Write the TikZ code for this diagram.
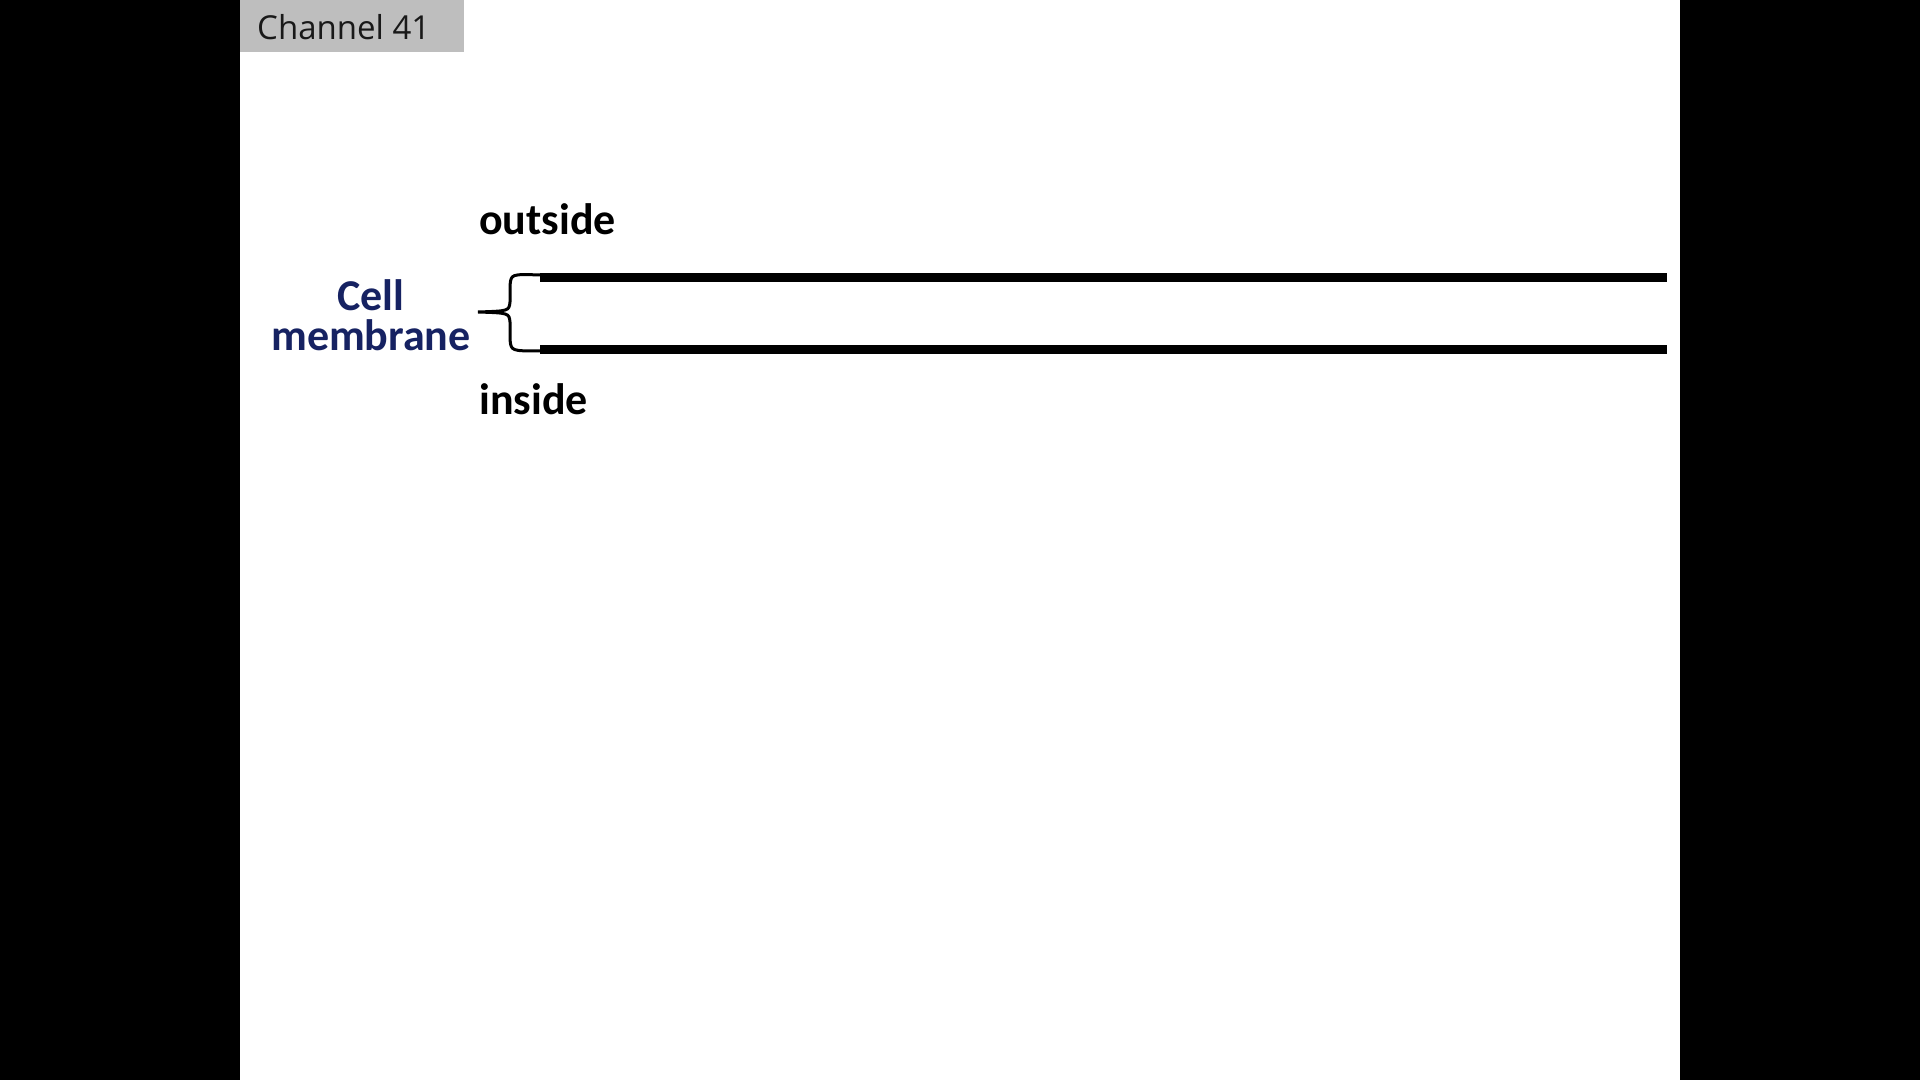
\documentclass[tikz,border=0pt]{standalone}
\usepackage{fontspec}
\setmainfont{Carlito}
\newfontfamily\tabfont{Open Sans}
\definecolor{navyblue}{RGB}{22,34,98}
\definecolor{tabgray}{RGB}{190,190,190}
\tikzset{
    label text/.style={inner sep=0pt, anchor=base west, font=\fontsize{44}{44}\selectfont\bfseries},
    blue text/.style={inner sep=0pt, anchor=base, text=navyblue, font=\fontsize{44}{44}\selectfont\bfseries},
    membrane/.style={line width=9pt},
    brace line/.style={line width=3pt},
}
\begin{document}
\begin{tikzpicture}[x=1pt, y=1pt]
    % Frame
    \useasboundingbox (0,0) rectangle (1920,1080);
    \fill[black] (0,0) rectangle (1920,1080);
    \fill[white] (240,0) rectangle (1680,1080);

    % Tab at the top
    \fill[tabgray] (240,1028) rectangle (464,1080);
    \node[inner sep=0pt, anchor=base west, text=black!90, font=\tabfont\fontsize{33}{33}\selectfont] (tab) at (257,1040) {Channel 41};

    % Labels
    \node[label text] (outside) at (479,845) {outside};
    \node[label text] (inside) at (479,665) {inside};
    \node[blue text] (cell) at (371,769) {Cell};
    \node[blue text] (memb) at (371,729) {membrane};

    % Membrane lines
    \coordinate (topL) at (540,802);
    \coordinate (topR) at (1667,802);
    \coordinate (botL) at (540,730);
    \coordinate (botR) at (1667,730);
    \coordinate (tip) at (478,768);
    \draw[membrane] (topL) -- (topR);
    \draw[membrane] (botL) -- (botR);

    % Brace
    \draw[brace line] (540,805) .. controls (511,806) .. (510,794) -- (510,778)
        .. controls (509,769) .. (tip)
        .. controls (509,767) .. (510,758) -- (510,741)
        .. controls (511,729) .. (540,729);
\end{tikzpicture}
\end{document}
